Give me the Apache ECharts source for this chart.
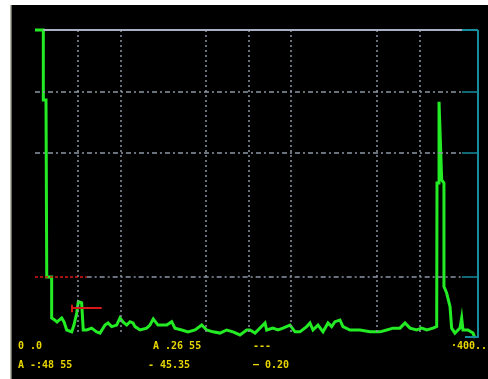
<!DOCTYPE html>
<html>
<head>
<meta charset="utf-8">
<script src="https://cdn.jsdelivr.net/npm/echarts@6/dist/echarts.min.js"></script>
<style>
  html, body { margin: 0; padding: 0; background: #ffffff; }
  #chart { width: 488px; height: 379px; }
</style>
</head>
<body>
<div id="chart"></div>
<script>
// Trace samples (distance, level)
const traceX = [0, 7.8, 7.8, 10.3, 11, 15.6, 15.6, 18.7, 20.6, 25, 27.2, 29.7, 34.4, 36.5, 39.1, 40.6, 43.7, 44.7, 45.2, 48.4,
  53.1, 57.8, 60.9, 65.6, 68.4, 71.9, 76.5, 79.6, 82.4, 85.9, 89.0, 91.8, 93.7, 98.4, 104.6, 107.7, 110.8, 115.2, 123.4, 128.1,
  131.1, 137.4, 143.3, 149.9, 156.2, 160.8, 166.7, 173.3, 179.6, 185.5, 192.0, 198.3, 201.4, 206.1, 215.5, 217.0, 222.9, 227.6, 232.3, 238.9,
  243.6, 248.2, 254.5, 257.6, 260.4, 265.1, 269.8, 274.5, 277.9, 281.0, 285.7, 288.5, 295.1, 304.4, 313.8, 323.2, 329.5, 335.4, 341.9, 346.6,
  351.3, 357.6, 362.3, 367.0, 372.8, 376.3, 376.6, 378.5, 378.5, 380.3, 381.0, 383.1, 383.1, 385.6, 388.8, 390.3, 393.4, 398.1, 399.7, 400.9,
  405.6, 410.3, 412.2];
const traceY = [100, 100, 77.3, 77.3, 19.8, 19.8, 6.5, 5.8, 5.2, 6.5, 5.2, 2.6, 2.0, 4.2, 8.1, 11.8, 11.4, 11.4, 2.6, 2.6,
  3.2, 2.0, 1.6, 4.2, 4.9, 3.7, 4.2, 6.5, 5.2, 4.2, 5.3, 4.9, 3.7, 2.6, 3.2, 4.2, 6.2, 4.2, 4.2, 5.3,
  3.2, 2.6, 2.0, 2.6, 4.2, 2.6, 2.0, 1.6, 2.6, 2.0, 1.0, 2.6, 2.6, 1.6, 4.9, 2.6, 3.2, 2.6, 3.2, 4.2,
  2.0, 2.0, 3.7, 4.9, 2.6, 4.2, 2.0, 4.9, 3.7, 5.3, 5.8, 3.7, 2.6, 2.6, 2.0, 2.0, 2.6, 3.2, 3.2, 4.9,
  3.2, 2.6, 3.2, 2.6, 3.2, 3.7, 50.3, 50.3, 76.7, 76.7, 51.3, 50.3, 16.7, 14.6, 10.2, 3.2, 1.6, 3.2, 6.5, 2.6,
  2.6, 1.6, 0];

// Axis extents and grid divisions
const xMax = 415;
const gridEnd = 400;
const yMax = 100;
const gridXs = [40, 80, 160, 200, 240, 320, 360];
const gridYs = [80, 60, 20];

// Threshold marker (red) and cursor
const thresholdLevel = 20;
const thresholdEnd = 48.4;
const cursorLevel = 9.7;
const cursorFrom = 34.4;
const cursorTo = 62.5;

// Readout texts
const readoutTop = ['0 .0', 'A .26 55', '---'];
const readoutBottom = ['A -:48 55', '- 45.35', '\u2014 0.20'];
const rangeText = '\u00b7400..';

const GRAY = '#8c96a6';
const TEAL = '#178c9c';
const RED = '#d81818';
const YELLOW = '#e8d600';

const seg = (x1, y1, x2, y2, style) => [
  { coord: [x1, y1], lineStyle: style },
  { coord: [x2, y2] }
];

const lines = [];
// vertical dotted grid
gridXs.forEach(x => lines.push(seg(x, yMax, x, 1, { color: GRAY, width: 1.5, type: [2, 3] })));
// horizontal dash-dot grid
gridYs.forEach(y => {
  const start = (y === thresholdLevel) ? thresholdEnd : 0;
  lines.push(seg(start, y, gridEnd, y, { color: GRAY, width: 1.5, type: [5, 3, 2, 3] }));
  lines.push(seg(gridEnd, y, xMax, y, { color: TEAL, width: 1.5, type: 'solid' }));
});
// top border
lines.push(seg(7.8, yMax, gridEnd, yMax, { color: '#a8b0c6', width: 2, type: 'solid' }));
lines.push(seg(gridEnd, yMax, xMax, yMax, { color: TEAL, width: 2, type: 'solid' }));
// right border and bottom corner
lines.push(seg(xMax - 0.5, yMax, xMax - 0.5, 0, { color: TEAL, width: 2, type: 'solid' }));
lines.push(seg(402.8, 0.3, xMax, 0.3, { color: TEAL, width: 2, type: 'solid' }));
// threshold (red dotted)
lines.push(seg(0, thresholdLevel, thresholdEnd, thresholdLevel, { color: RED, width: 1.5, type: [3, 2] }));
// cursor
lines.push(seg(cursorFrom, cursorLevel, cursorTo, cursorLevel, { color: RED, width: 2, type: 'solid' }));
lines.push(seg(cursorFrom, cursorLevel - 1.3, cursorFrom, cursorLevel + 1.1, { color: RED, width: 2, type: 'solid' }));

const textStyle = { fill: YELLOW, font: 'bold 10px "DejaVu Sans Mono", monospace' };
const readoutX = [18, 153, 253];
const readoutX2 = [18, 148, 253];
const graphics = [
  { type: 'rect', shape: { x: 12, y: 5, width: 476, height: 374 }, style: { fill: '#000000' }, z: -10 },
  { type: 'rect', shape: { x: 10.5, y: 5, width: 1.5, height: 374 }, style: { fill: '#6a6a60' }, z: -9 }
];
readoutTop.forEach((t, i) => graphics.push({ type: 'text', left: readoutX[i], top: 341, style: Object.assign({ text: t }, textStyle), z: 5 }));
readoutBottom.forEach((t, i) => graphics.push({ type: 'text', left: readoutX2[i], top: 360, style: Object.assign({ text: t }, textStyle), z: 5 }));
graphics.push({ type: 'text', left: 451, top: 341, style: Object.assign({ text: rangeText }, textStyle), z: 5 });

const chart = echarts.init(document.getElementById('chart'), null, { renderer: 'canvas' });
chart.setOption({
  backgroundColor: '#ffffff',
  animation: false,
  grid: { left: 35, right: 10, top: 30, bottom: 41 },
  xAxis: { type: 'value', min: 0, max: xMax, show: false },
  yAxis: { type: 'value', min: 0, max: yMax, show: false },
  graphic: graphics,
  series: [
    {
      type: 'line',
      data: [],
      silent: true,
      z: 1,
      markLine: { silent: true, symbol: 'none', label: { show: false }, animation: false, data: lines }
    },
    {
      type: 'line',
      data: traceX.map((x, i) => [x, traceY[i]]),
      showSymbol: false,
      clip: false,
      z: 3,
      lineStyle: { color: '#24ec24', width: 3, join: 'miter' }
    }
  ]
});
</script>
</body>
</html>
